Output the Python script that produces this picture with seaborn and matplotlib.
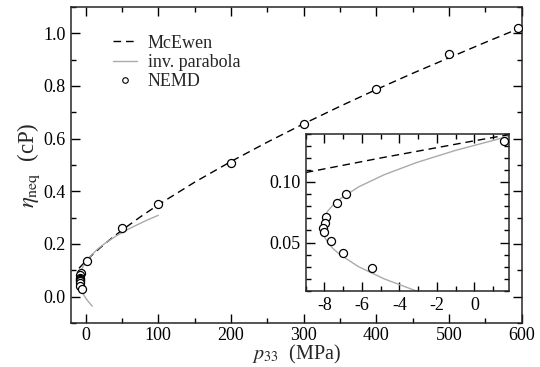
import matplotlib
matplotlib.use("Agg")
import matplotlib.pyplot as plt
import seaborn as sns
import pandas as pd
from matplotlib.ticker import MultipleLocator, FormatStrFormatter

# ---- data ----
nemd_p = [-6.85, -7.32, -7.91, -7.98, -8.09, -8.0, -7.66, -7.02, -5.46,
          1.6, 50.0, 100.0, 200.0, 300.0, 400.0, 500.0, 595.0]
nemd_eta = [0.0904, 0.0825, 0.0709, 0.0665, 0.0619, 0.0588, 0.0511, 0.041, 0.0287,
            0.134, 0.26, 0.352, 0.508, 0.657, 0.79, 0.923, 1.022]

mcewen_p = [-9, -5, 0, 5, 10, 20, 35, 50, 75, 100, 150, 200, 250, 300,
            350, 400, 450, 500, 550, 600]
mcewen_eta = [0.1078, 0.1198, 0.134, 0.1476, 0.1606, 0.1853, 0.2199, 0.2522,
              0.3022, 0.3488, 0.4345, 0.5131, 0.5867, 0.6563, 0.7227, 0.7866,
              0.8481, 0.907, 0.9656, 1.0224]

parab_eta = [-0.036, -0.03, -0.02, -0.01, 0.0, 0.01, 0.02, 0.03, 0.04, 0.045,
             0.05, 0.055, 0.06, 0.063, 0.066, 0.071, 0.076, 0.081, 0.086,
             0.096, 0.106, 0.116, 0.126, 0.136, 0.146, 0.16, 0.18, 0.2,
             0.23, 0.26, 0.29, 0.309]
parab_p = [9.4, 7.36, 4.21, 1.42, -1.02, -3.09, -4.81, -6.17, -7.17, -7.54,
           -7.82, -8.01, -8.10, -8.12, -8.10, -8.01, -7.82, -7.54, -7.17,
           -6.17, -4.81, -3.09, -1.02, 1.42, 4.21, 8.72, 16.38, 25.48,
           41.80, 61.35, 84.12, 100.2]

legend_labels = ["McEwen", "inv. parabola", "NEMD"]

df_nemd = pd.DataFrame({"p": nemd_p, "eta": nemd_eta})
df_mc = pd.DataFrame({"p": mcewen_p, "eta": mcewen_eta})
df_par = pd.DataFrame({"p": parab_p, "eta": parab_eta})

sns.set_style("ticks")
SERIF = ["Liberation Serif", "DejaVu Serif"]
plt.rcParams["font.family"] = SERIF
plt.rcParams["font.serif"] = SERIF
plt.rcParams["mathtext.fontset"] = "stix"
plt.rcParams["axes.unicode_minus"] = False
plt.rcParams["axes.linewidth"] = 1.1

fig = plt.figure(figsize=(5.4, 3.67), dpi=100)
ax = fig.add_axes([0.1315, 0.1199, 0.8346, 0.8611])

gray = "#aaaaaa"


def draw(a, legend):
    sns.lineplot(data=df_mc, x="p", y="eta", ax=a, sort=False, estimator=None,
                 color="black", linewidth=1.0,
                 label=legend_labels[0] if legend else None)
    a.lines[-1].set_dashes([5.5, 3.5])
    sns.lineplot(data=df_par, x="p", y="eta", ax=a, sort=False, estimator=None,
                 color=gray, linewidth=1.0,
                 label=legend_labels[1] if legend else None)
    a.plot(df_nemd["p"], df_nemd["eta"], linestyle="none", marker="o",
           markersize=5.8, markerfacecolor="white", markeredgecolor="black",
           markeredgewidth=0.9, label=legend_labels[2] if legend else None,
           zorder=5)


def style_ticks(a, size, pad):
    a.tick_params(which="both", direction="in", top=True, right=True,
                  labelsize=size, width=1.0, colors="black",
                  labelfontfamily="Liberation Serif")
    a.tick_params(which="major", length=6.5, pad=pad)
    a.tick_params(which="minor", length=3.6)


draw(ax, True)
ax.set_xlim(-20, 600)
ax.set_ylim(-0.1, 1.1)
ax.xaxis.set_major_locator(MultipleLocator(100))
ax.xaxis.set_minor_locator(MultipleLocator(50))
ax.yaxis.set_major_locator(MultipleLocator(0.2))
ax.yaxis.set_minor_locator(MultipleLocator(0.1))
ax.xaxis.set_major_formatter(FormatStrFormatter("%d"))
ax.yaxis.set_major_formatter(FormatStrFormatter("%.1f"))
style_ticks(ax, 13, 4)
ax.tick_params(axis="x", which="major", pad=3)
ax.set_xlabel(r"$p_{33}$  (MPa)", fontsize=14.5, va="bottom")
ax.xaxis.set_label_coords(0.5, -0.1355)
ax.set_ylabel(r"$\eta_{\rm neq}$  (cP)", fontsize=16.5, labelpad=1)

leg = ax.legend(loc="upper left", bbox_to_anchor=(0.078, 0.935), frameon=False,
                prop={"family": "Liberation Serif", "size": 13},
                handlelength=1.3, handletextpad=0.6,
                labelspacing=0.12, borderaxespad=0)
for h in leg.get_lines():
    if h.get_marker() == "o":
        h.set_markersize(4)
        h.set_markeredgewidth(0.8)

# inset
axi = fig.add_axes([0.5661, 0.2071, 0.3765, 0.4291])
draw(axi, False)
axi.set_xlim(-9, 1.85)
axi.set_ylim(0.01, 0.14)
axi.xaxis.set_major_locator(MultipleLocator(2))
axi.xaxis.set_minor_locator(MultipleLocator(1))
axi.yaxis.set_major_locator(MultipleLocator(0.05))
axi.yaxis.set_minor_locator(MultipleLocator(0.01))
axi.xaxis.set_major_formatter(FormatStrFormatter("%d"))
axi.yaxis.set_major_formatter(FormatStrFormatter("%.2f"))
style_ticks(axi, 13, 4)
axi.set_xlabel("")
axi.set_ylabel("")
if axi.get_legend():
    axi.get_legend().remove()

fig.savefig("out.png", dpi=100)
